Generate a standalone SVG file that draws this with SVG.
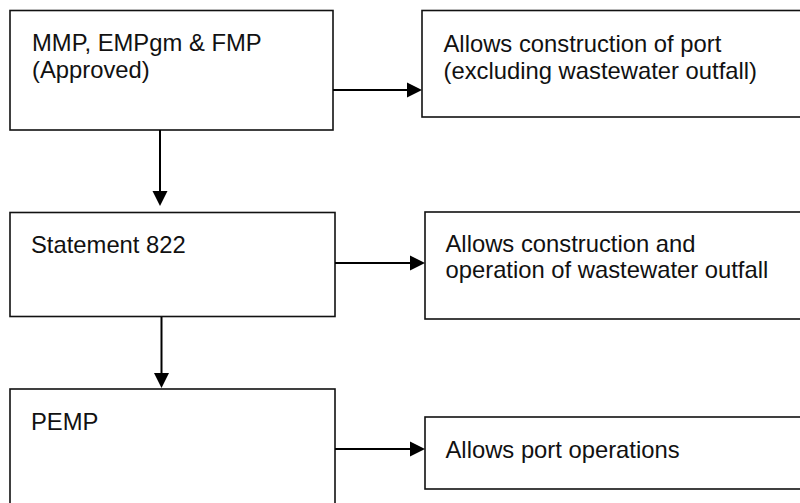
<svg xmlns="http://www.w3.org/2000/svg" width="800" height="503" viewBox="0 0 800 503">
  <style>
    .box { fill: #ffffff; stroke: #111111; stroke-width: 1.6; }
    .lbl { font-family: "Liberation Sans", Arial, sans-serif; font-size: 23.8px; fill: #111111; }
    .conn { stroke: #000000; stroke-width: 2; fill: none; }
    .head { fill: #000000; stroke: none; }
  </style>
  <rect width="800" height="503" fill="#ffffff"/>

  <g id="node-mmp">
    <rect class="box" x="10" y="10.5" width="323" height="119.5"/>
    <text class="lbl" x="32" y="51">MMP, EMPgm &amp; FMP</text>
    <text class="lbl" x="32" y="77.5">(Approved)</text>
  </g>
  <g id="node-port-construction">
    <rect class="box" x="422" y="10.5" width="400" height="106.5"/>
    <text class="lbl" x="443.5" y="52">Allows construction of port</text>
    <text class="lbl" x="443.5" y="78.5">(excluding wastewater outfall)</text>
  </g>
  <g id="node-statement">
    <rect class="box" x="10" y="212.5" width="325" height="104"/>
    <text class="lbl" x="31" y="253">Statement 822</text>
  </g>
  <g id="node-outfall">
    <rect class="box" x="425" y="212" width="400" height="107"/>
    <text class="lbl" x="445.5" y="251.5">Allows construction and</text>
    <text class="lbl" x="445.5" y="278">operation of wastewater outfall</text>
  </g>
  <g id="node-pemp">
    <rect class="box" x="10" y="389" width="325" height="140"/>
    <text class="lbl" x="31" y="430">PEMP</text>
  </g>
  <g id="node-port-operations">
    <rect class="box" x="425" y="417" width="400" height="72"/>
    <text class="lbl" x="445.5" y="457.5">Allows port operations</text>
  </g>

  <g id="connectors">
    <line class="conn" x1="333" y1="90" x2="408" y2="90"/>
    <polygon class="head" points="407,82.5 422,90 407,97.5"/>
    <line class="conn" x1="160" y1="130" x2="160" y2="192"/>
    <polygon class="head" points="152.5,191 167.5,191 160,206"/>
    <line class="conn" x1="335" y1="263" x2="411" y2="263"/>
    <polygon class="head" points="410,255.5 425,263 410,270.5"/>
    <line class="conn" x1="161.5" y1="317" x2="161.5" y2="374"/>
    <polygon class="head" points="154,373 169,373 161.5,388"/>
    <line class="conn" x1="335" y1="449" x2="411" y2="449"/>
    <polygon class="head" points="410,441.5 425,449 410,456.5"/>
  </g>
</svg>
